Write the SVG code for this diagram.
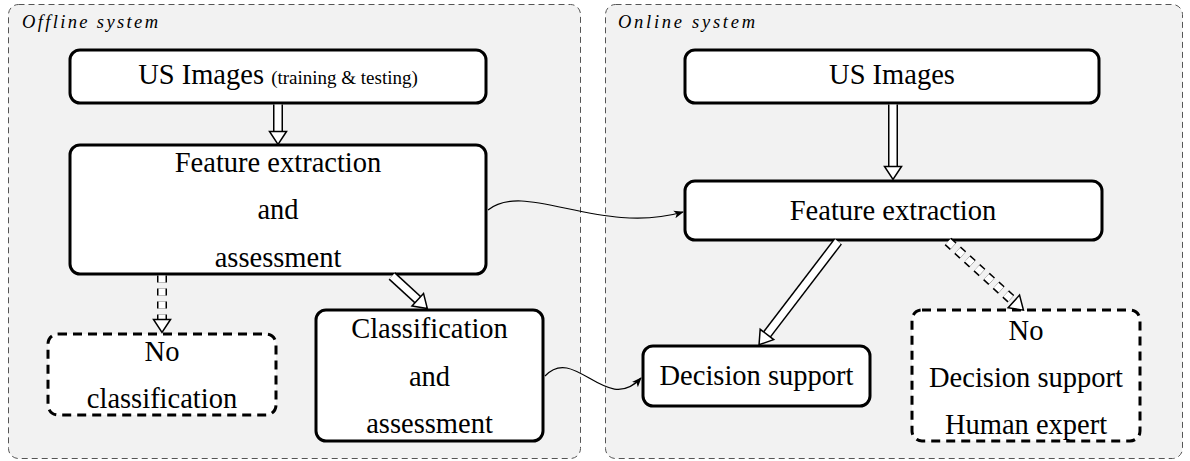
<svg xmlns="http://www.w3.org/2000/svg" width="1190" height="461" viewBox="0 0 1190 461">
<style>
.panel{fill:#f2f2f2;stroke:#555;stroke-width:1;stroke-dasharray:6 4}
.plabel{font-family:'Liberation Serif','Times New Roman',Times,'DejaVu Serif',serif;font-style:italic;font-size:18.5px;fill:#000}
.box{fill:#fff;stroke:#000;stroke-width:3}
.dbox{fill:#fff;stroke:#000;stroke-width:3;stroke-dasharray:9 6}
.t{font-family:'Liberation Serif','Times New Roman',Times,'DejaVu Serif',serif;font-size:28.5px;fill:#000;text-anchor:middle}
.small{font-size:19px}
.so{fill:none;stroke:#000;stroke-width:10}
.si{fill:none;stroke:#fff;stroke-width:7}
.dso{fill:none;stroke:#000;stroke-width:10;stroke-dasharray:7 6}
.dsi{fill:none;stroke:#fff;stroke-width:7;stroke-dasharray:7 6}
.head{fill:#fff;stroke:#000;stroke-width:1.5;stroke-linejoin:miter}
.curve{fill:none;stroke:#000;stroke-width:1.2}
</style>
<defs>
<marker id="tip" viewBox="0 0 10 10" refX="9" refY="5" markerWidth="10" markerHeight="10" markerUnits="userSpaceOnUse" orient="auto">
<path d="M0,1 L10,5 L0,9 L2.5,5 Z" fill="#000"/>
</marker>
</defs>

<g id="offline-panel">
<rect class="panel" x="8.5" y="4.5" width="572" height="454" rx="10"/>
<text class="plabel" x="22" y="28" textLength="136" lengthAdjust="spacing">Offline system</text>
</g>
<g id="online-panel">
<rect class="panel" x="605.5" y="4.5" width="577" height="454" rx="10"/>
<text class="plabel" x="618" y="28" textLength="137" lengthAdjust="spacing">Online system</text>
</g>

<g id="off-us-images">
<rect class="box" x="70" y="50" width="416" height="53" rx="10"/>
<text class="t" x="278" y="84">US Images <tspan class="small">(training &amp; testing)</tspan></text>
</g>
<g id="off-feature">
<rect class="box" x="70" y="145" width="416" height="129" rx="10"/>
<text class="t" x="278" y="172">Feature extraction</text>
<text class="t" x="278" y="219">and</text>
<text class="t" x="278" y="267">assessment</text>
</g>
<g id="off-no-class">
<rect class="dbox" x="48" y="334" width="228" height="81" rx="10"/>
<text class="t" x="162" y="361">No</text>
<text class="t" x="162" y="408">classification</text>
</g>
<g id="off-class">
<rect class="box" x="316" y="310" width="227" height="131" rx="10"/>
<text class="t" x="429.5" y="338">Classification</text>
<text class="t" x="429.5" y="386">and</text>
<text class="t" x="429.5" y="433">assessment</text>
</g>

<g id="on-us-images">
<rect class="box" x="685" y="50" width="414" height="53" rx="10"/>
<text class="t" x="892" y="84">US Images</text>
</g>
<g id="on-feature">
<rect class="box" x="685" y="181" width="417" height="59" rx="10"/>
<text class="t" x="893" y="220">Feature extraction</text>
</g>
<g id="on-decision">
<rect class="box" x="643" y="346" width="227" height="60" rx="10"/>
<text class="t" x="756.5" y="385">Decision support</text>
</g>
<g id="on-no-decision">
<rect class="dbox" x="912" y="310" width="228" height="131" rx="10"/>
<text class="t" x="1026" y="340">No</text>
<text class="t" x="1026" y="387">Decision support</text>
<text class="t" x="1026" y="434">Human expert</text>
</g>

<g id="connectors">
<g transform="translate(278,104.5) rotate(90)">
<path class="so" d="M0,0 H28"/><path class="si" d="M0,0 H29"/>
<polygon class="head" points="27,-8.5 40,0 27,8.5"/>
</g>
<g transform="translate(893,104.5) rotate(90)">
<path class="so" d="M0,0 H63"/><path class="si" d="M0,0 H64"/>
<polygon class="head" points="62,-8.5 75,0 62,8.5"/>
</g>
<g transform="translate(162,275.5) rotate(90)">
<path class="dso" d="M0,0 H45"/><path class="dsi" d="M0,0 H45"/>
<polygon class="head" points="44,-8.5 57,0 44,8.5"/>
</g>
<g transform="translate(392,276) rotate(42.6)">
<path class="so" d="M0,0 H36"/><path class="si" d="M0,0 H37"/>
<polygon class="head" points="35,-8.5 48,0 35,8.5"/>
</g>
<g transform="translate(838,241.5) rotate(127.4)">
<path class="so" d="M0,0 H118"/><path class="si" d="M0,0 H119"/>
<polygon class="head" points="117,-8.5 130,0 117,8.5"/>
</g>
<g transform="translate(948,241.5) rotate(42.3)">
<path class="dso" d="M0,0 H90"/><path class="dsi" d="M0,0 H90"/>
<polygon class="head" points="89,-8.5 102,0 89,8.5"/>
</g>
<path class="curve" d="M488,210 C525,180 600,236 683,212" marker-end="url(#tip)"/>
<path class="curve" d="M545,376 C575,344 606,416 641,378" marker-end="url(#tip)"/>
</g>
</svg>
